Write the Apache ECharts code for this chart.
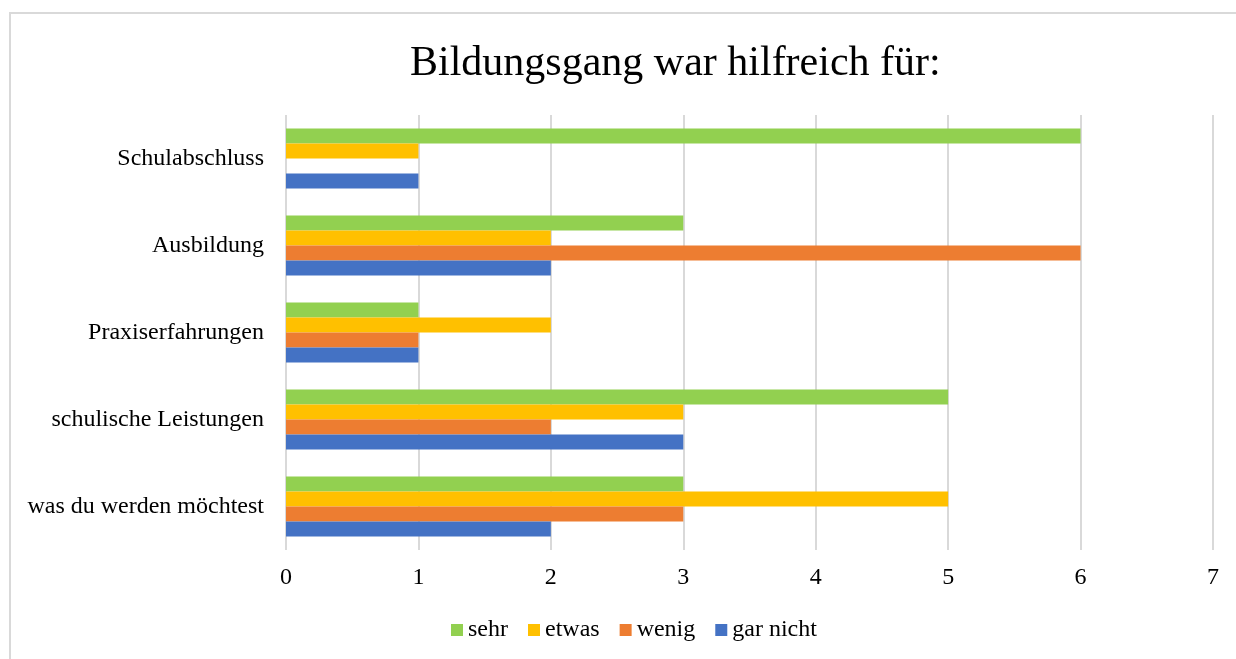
<!DOCTYPE html>
<html>
<head>
<meta charset="utf-8">
<script src="https://cdn.jsdelivr.net/npm/echarts@6/dist/echarts.min.js"></script>
<style>
  html, body { margin: 0; padding: 0; background: #fff; }
  #chart { width: 1236px; height: 659px; }
</style>
</head>
<body>
<div id="chart"></div>
<script>
// Kategorien von unten nach oben (y-Achse beginnt unten)
const categories = ['was du werden möchtest', 'schulische Leistungen', 'Praxiserfahrungen', 'Ausbildung', 'Schulabschluss']
const xTicks = [0, 1, 2, 3, 4, 5, 6, 7]

const sehr = [3, 5, 1, 3, 6]
const etwas = [5, 3, 2, 2, 1]
const wenig = [3, 2, 1, 6, 0]
const garNicht = [2, 3, 1, 2, 1]

const font = 'Liberation Serif, Times New Roman, serif'

const chart = echarts.init(document.getElementById('chart'))

const bar = (name, data, color) => ({
  name,
  type: 'bar',
  data,
  barGap: '0%',
  barCategoryGap: '31%',
  itemStyle: { color },
  emphasis: { disabled: true }
})

const option = {
  animation: false,
  backgroundColor: '#fff',
  graphic: [{
    type: 'rect',
    shape: { x: 10, y: 13, width: 1240, height: 660 },
    style: { fill: 'none', stroke: '#d9d9d9', lineWidth: 2 },
    silent: true
  }],
  title: {
    text: 'Bildungsgang war hilfreich für:',
    left: 405,
    top: 38,
    textStyle: { fontFamily: font, fontSize: 42, fontWeight: 'normal', color: '#000' }
  },
  legend: {
    data: ['sehr', 'etwas', 'wenig', 'gar nicht'],
    left: 451,
    top: 618,
    padding: 0,
    icon: 'rect',
    itemWidth: 12,
    itemHeight: 12,
    itemGap: 20,
    textStyle: { fontFamily: font, fontSize: 24, color: '#000' }
  },
  grid: { left: 286, right: 23, top: 115, bottom: 109, containLabel: false },
  xAxis: {
    type: 'value',
    min: xTicks[0],
    max: xTicks[xTicks.length - 1],
    interval: 1,
    axisLine: { show: false },
    axisTick: { show: false },
    axisLabel: { fontFamily: font, fontSize: 24, color: '#000', margin: 16 },
    splitLine: { lineStyle: { color: '#d9d9d9', width: 2 } }
  },
  yAxis: {
    type: 'category',
    data: categories,
    axisLine: { show: false },
    axisTick: { show: false },
    axisLabel: { fontFamily: font, fontSize: 24, color: '#000', margin: 22 }
  },
  // erste Reihe liegt oben in jeder Gruppe
  series: [
    bar('sehr', sehr, '#92d050'),
    bar('etwas', etwas, '#ffc000'),
    bar('wenig', wenig, '#ed7d31'),
    bar('gar nicht', garNicht, '#4472c4')
  ]
}

option && chart.setOption(option)
</script>
</body>
</html>
